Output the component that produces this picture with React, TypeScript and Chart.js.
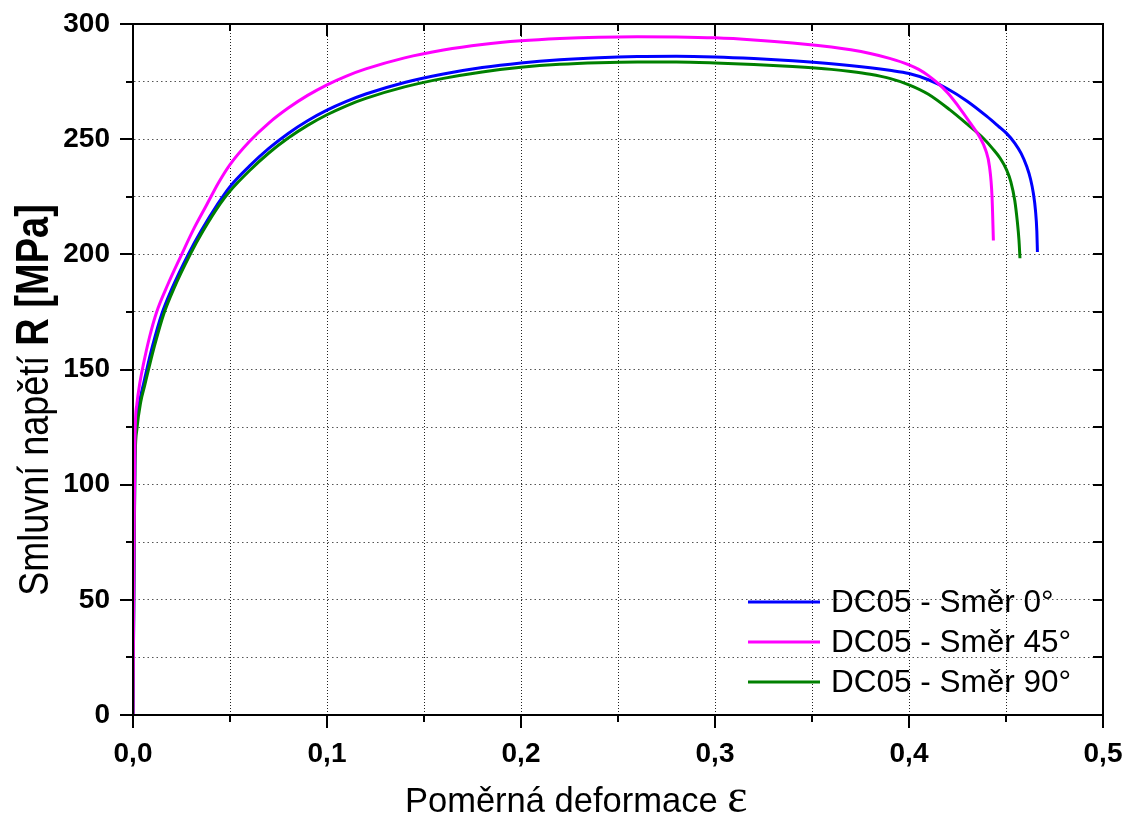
import React, { useEffect, useRef } from "react";
import { Chart, registerables } from "chart.js";

Chart.register(...registerables);

const seriesNames = ["DC05 - Směr 0°", "DC05 - Směr 45°", "DC05 - Směr 90°"];
const seriesColors = ["#0000ff", "#ff00ff", "#008000"];

const strain0 = [0, 0.0005, 0.001, 0.002, 0.0036, 0.0055, 0.0071, 0.01, 0.0148, 0.02, 0.0285, 0.035, 0.0438, 0.05, 0.06, 0.07, 0.08, 0.09, 0.1, 0.11, 0.12, 0.14, 0.16, 0.18, 0.2, 0.22, 0.24, 0.26, 0.28, 0.3, 0.32, 0.34, 0.36, 0.38, 0.39, 0.4, 0.41, 0.42, 0.43, 0.44, 0.446, 0.4503, 0.4545, 0.4578, 0.4607, 0.4627, 0.4641, 0.4652, 0.4659, 0.4662];
const stress0 = [0, 60, 112, 128, 137, 144, 150, 160, 174, 185, 200, 210, 222, 229.4, 238.3, 246, 252.5, 258, 262.6, 266.4, 269.6, 274.6, 278.3, 281.1, 283.1, 284.5, 285.4, 285.9, 286, 285.7, 285, 284, 282.7, 281, 279.9, 278.5, 275.8, 271.8, 266.5, 260, 255.7, 252.5, 248.3, 243.8, 238.1, 232.5, 226.5, 219, 210, 201];

const strain45 = [0, 0.0005, 0.001, 0.002, 0.0035, 0.0053, 0.0085, 0.0122, 0.018, 0.0251, 0.031, 0.038, 0.044, 0.05, 0.06, 0.07, 0.08, 0.09, 0.1, 0.11, 0.12, 0.14, 0.16, 0.18, 0.2, 0.22, 0.24, 0.26, 0.28, 0.3, 0.32, 0.34, 0.36, 0.37, 0.38, 0.39, 0.4, 0.405, 0.41, 0.415, 0.42, 0.4263, 0.432, 0.4365, 0.4395, 0.4415, 0.4428, 0.4435];
const stress45 = [0, 70, 120, 135, 144, 152, 164, 175, 187, 200, 210.5, 221.5, 231, 239, 249, 257, 263.5, 269, 273.6, 277.4, 280.5, 285.3, 288.7, 291.1, 292.7, 293.7, 294.3, 294.5, 294.4, 294, 293.1, 291.8, 290, 288.8, 287.2, 285.1, 282.3, 280.3, 277.6, 274.2, 270, 263.3, 256.5, 250.8, 245.3, 238, 225, 206];

const strain90 = [0, 0.0005, 0.001, 0.002, 0.004, 0.006, 0.008, 0.011, 0.0158, 0.021, 0.0295, 0.036, 0.045, 0.05, 0.06, 0.07, 0.08, 0.09, 0.1, 0.11, 0.12, 0.14, 0.16, 0.18, 0.2, 0.22, 0.24, 0.26, 0.28, 0.3, 0.32, 0.34, 0.36, 0.37, 0.38, 0.39, 0.4, 0.41, 0.4211, 0.43, 0.4383, 0.443, 0.447, 0.4503, 0.4525, 0.4545, 0.4558, 0.4567, 0.4572];
const stress90 = [0, 60, 108, 124, 136, 143, 150, 160, 174, 185, 200, 210, 222, 227.5, 236.3, 244, 250.5, 256, 260.6, 264.5, 267.7, 272.7, 276.4, 279.2, 281.2, 282.5, 283.2, 283.5, 283.5, 283.1, 282.4, 281.5, 280.3, 279.4, 278.2, 276.4, 273.6, 269.5, 262.7, 256.5, 250.4, 246, 241.7, 236.7, 231.5, 223.5, 214.5, 206, 198.3];

const xMin = 0;
const xMax = 0.5;
const xStep = 0.05;
const yMin = 0;
const yMax = 300;
const yStep = 25;

const xTitle = "Poměrná deformace ";
const xTitleSymbol = "ε";
const yTitleNormal = "Smluvní napětí ";
const yTitleBold = "R [MPa]";

const FONT = "'Liberation Sans', Arial, sans-serif";

const isMajorX = (v: number) => Math.abs(v * 10 - Math.round(v * 10)) < 1e-6;
const isMajorY = (v: number) => Math.abs(v / 50 - Math.round(v / 50)) < 1e-6;

const toPoints = (xs: number[], ys: number[]) => xs.map((x, i) => ({ x, y: ys[i] }));

const zeroPad = (s: any) => {
  s.paddingTop = 0;
  s.paddingBottom = 0;
  s.paddingLeft = 0;
  s.paddingRight = 0;
};

const framePlugin = {
  id: "frameTicks",
  afterDraw(chart: any) {
    const { ctx, chartArea } = chart;
    const { left, right, top, bottom } = chartArea;
    const xs = chart.scales.x;
    const ys = chart.scales.y;
    ctx.save();
    ctx.strokeStyle = "#000";
    ctx.lineWidth = 2;
    ctx.setLineDash([]);
    ctx.strokeRect(left, top, right - left, bottom - top);
    ctx.beginPath();
    xs.ticks.forEach((t: any) => {
      const px = Math.round(xs.getPixelForValue(t.value));
      const major = isMajorX(t.value);
      ctx.moveTo(px, bottom);
      ctx.lineTo(px, bottom + (major ? 13 : 7));
      ctx.moveTo(px, top);
      ctx.lineTo(px, top + (major ? 12 : 7));
    });
    ys.ticks.forEach((t: any) => {
      const py = Math.round(ys.getPixelForValue(t.value));
      const major = isMajorY(t.value);
      ctx.moveTo(left - (major ? 13 : 7), py);
      ctx.lineTo(left, py);
      ctx.moveTo(right - 10, py);
      ctx.lineTo(right, py);
    });
    ctx.stroke();

    // x axis title
    ctx.fillStyle = "#000";
    ctx.textBaseline = "alphabetic";
    ctx.textAlign = "left";
    ctx.font = `34.5px ${FONT}`;
    ctx.fillText(xTitle, 405, 812);
    const w1 = ctx.measureText(xTitle).width;
    ctx.font = `48px 'Liberation Serif', serif`;
    ctx.fillText(xTitleSymbol, 405 + w1, 812);

    // y axis title (rotated)
    ctx.save();
    ctx.translate(48, 400);
    ctx.rotate(-Math.PI / 2);
    ctx.scale(1, 1.2);
    ctx.font = `36px ${FONT}`;
    const v1 = ctx.measureText(yTitleNormal).width;
    ctx.font = `bold 38px ${FONT}`;
    const v2 = ctx.measureText(yTitleBold).width;
    const sy = -(v1 + v2) / 2;
    ctx.font = `36px ${FONT}`;
    ctx.fillText(yTitleNormal, sy, 0);
    ctx.font = `bold 38px ${FONT}`;
    ctx.fillText(yTitleBold, sy + v1, 0);
    ctx.restore();

    // legend
    ctx.font = `31.5px ${FONT}`;
    ctx.textBaseline = "middle";
    seriesNames.forEach((name, i) => {
      const y = 602 + i * 40;
      ctx.strokeStyle = seriesColors[i];
      ctx.lineWidth = 3;
      ctx.beginPath();
      ctx.moveTo(748, y);
      ctx.lineTo(820, y);
      ctx.stroke();
      ctx.fillStyle = "#000";
      ctx.fillText(name, 831, y + 1);
    });
    ctx.restore();
  },
};

export default function App() {
  const ref = useRef<HTMLCanvasElement | null>(null);
  useEffect(() => {
    document.body.style.margin = "0";
    const canvas = ref.current!;
    const series = [toPoints(strain0, stress0), toPoints(strain45, stress45), toPoints(strain90, stress90)];
    const chart = new Chart(canvas, {
      type: "line",
      data: {
        datasets: series.map((d, i) => ({
          label: seriesNames[i],
          data: d,
          borderColor: seriesColors[i],
          backgroundColor: seriesColors[i],
          borderWidth: 3,
          pointRadius: 0,
          fill: false,
          cubicInterpolationMode: "monotone" as const,
          order: i === 1 ? 0 : i === 2 ? 1 : 2,
        })),
      },
      options: {
        animation: false,
        responsive: false,
        maintainAspectRatio: false,
        layout: { padding: { left: 0, right: 31, top: 24, bottom: 0 } },
        plugins: { legend: { display: false }, tooltip: { enabled: false } },
        scales: {
          x: {
            type: "linear",
            min: xMin,
            max: xMax,
            afterFit: (s: any) => {
              s.height = 104;
              zeroPad(s);
            },
            ticks: {
              stepSize: xStep,
              autoSkip: false,
              maxRotation: 0,
              padding: 22,
              color: "#000",
              font: { family: FONT, size: 28, weight: "bold" },
              callback: (v: any) => (isMajorX(Number(v)) ? Number(v).toFixed(1).replace(".", ",") : ""),
            },
            grid: {
              drawTicks: false,
              color: (c: any) => (c.tick && (c.tick.value <= xMin + 1e-9 || c.tick.value >= xMax - 1e-9) ? "rgba(0,0,0,0)" : "#222"),
              lineWidth: 1,
            },
            border: { display: true, color: "#000", width: 2, dash: [1, 2] },
          },
          y: {
            type: "linear",
            min: yMin,
            max: yMax,
            afterFit: (s: any) => {
              s.width = 133;
              zeroPad(s);
            },
            ticks: {
              stepSize: yStep,
              autoSkip: false,
              padding: 23,
              color: "#000",
              font: { family: FONT, size: 28, weight: "bold" },
              callback: (v: any) => (isMajorY(Number(v)) ? String(v) : ""),
            },
            grid: {
              drawTicks: false,
              color: (c: any) => (c.tick && (c.tick.value <= yMin || c.tick.value >= yMax) ? "rgba(0,0,0,0)" : "#555"),
              lineWidth: 1,
            },
            border: { display: true, color: "#000", width: 2, dash: [1.5, 3] },
          },
        },
      },
      plugins: [framePlugin],
    });
    return () => chart.destroy();
  }, []);
  return (
    <div style={{ position: "absolute", left: 0, top: 0, width: 1134, height: 819, background: "#fff" }}>
      <canvas ref={ref} width={1134} height={819} style={{ display: "block", width: 1134, height: 819 }} />
    </div>
  );
}
